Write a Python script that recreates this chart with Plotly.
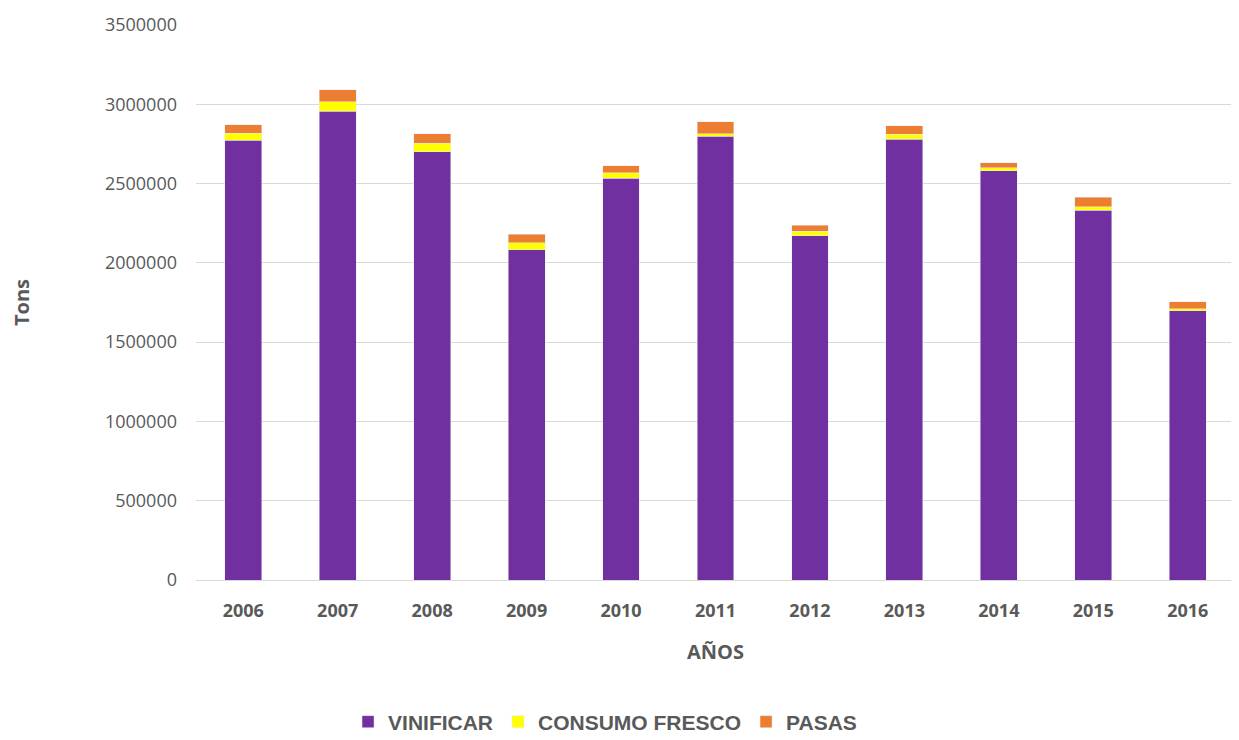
import plotly.graph_objects as go

years = ["2006", "2007", "2008", "2009", "2010", "2011", "2012", "2013", "2014", "2015", "2016"]
vinificar = [2774000, 2956000, 2701000, 2084000, 2534000, 2797000, 2172000, 2780000, 2580000, 2331000, 1698000]
consumo_fresco = [44000, 61000, 52000, 44000, 33000, 17000, 27600, 29500, 21000, 22600, 12500]
pasas = [52700, 73200, 62700, 52700, 46400, 75000, 37600, 54400, 29000, 58800, 45800]

y_ticks = [0, 500000, 1000000, 1500000, 2000000, 2500000, 3000000, 3500000]

gray = "#595959"
fig = go.Figure()
fig.add_bar(x=years, y=vinificar, name="VINIFICAR", marker_color="#7030a0")
fig.add_bar(x=years, y=consumo_fresco, name="CONSUMO FRESCO", marker_color="#ffff00")
fig.add_bar(x=years, y=pasas, name="PASAS", marker_color="#ed7d31")

fig.update_layout(
    barmode="stack",
    bargap=0.61,
    width=1231, height=732,
    paper_bgcolor="white", plot_bgcolor="white",
    margin=dict(l=188, r=4, t=14, b=160),
    font=dict(family="Open Sans", color=gray),
    legend=dict(
        orientation="h", xref="container", yref="container",
        x=0.485, xanchor="center", y=0.0246, yanchor="middle",
        font=dict(family="Liberation Sans", size=21, color=gray, weight="bold"),
        itemwidth=30, traceorder="normal",
    ),
    xaxis=dict(
        showline=True, linecolor="#d9d9d9", linewidth=1,
        tickfont=dict(size=18, color=gray, weight="bold"),
        ticks="", ticklabelstandoff=14,
        title=dict(text="AÑOS", standoff=24,
                   font=dict(size=20, color=gray, weight="bold")),
    ),
    yaxis=dict(
        range=[0, 3500000], tickvals=y_ticks, ticktext=[str(v) for v in y_ticks],
        showgrid=True, gridcolor="#d9d9d9", gridwidth=1, zeroline=False,
        tickfont=dict(size=18, color=gray), ticks="", ticklabelstandoff=18,
        title=dict(text="Tons", standoff=74, font=dict(size=20, color=gray, weight="bold")),
    ),
)

fig.write_html("out.html")
